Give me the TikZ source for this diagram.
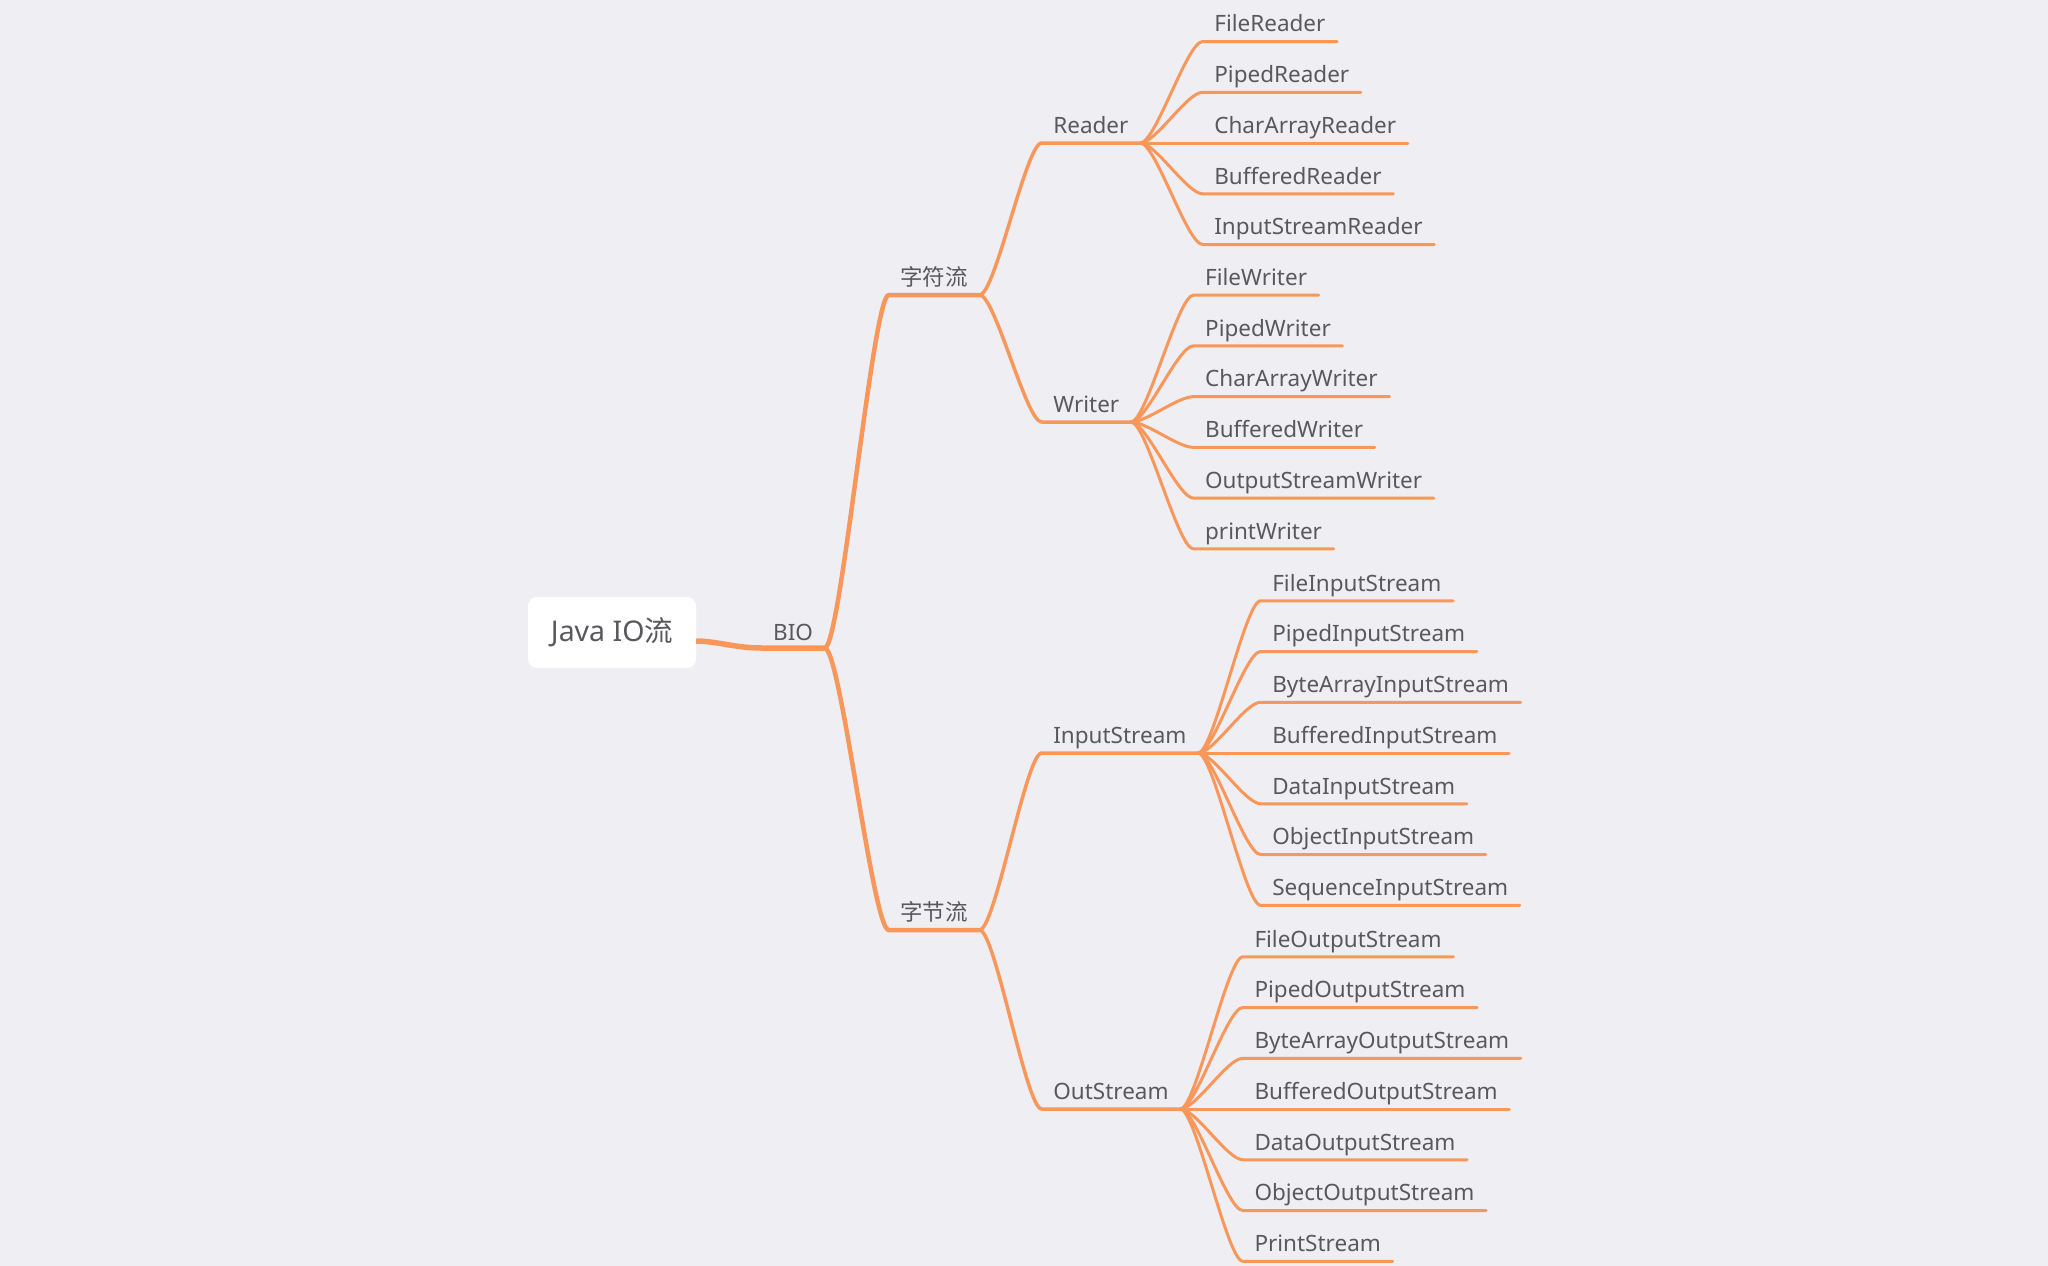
\documentclass[tikz,border=0pt]{standalone}
\usepackage{fontspec}
\setmainfont{Noto Sans}
\newfontfamily\cjk{Noto Sans CJK SC}
\usetikzlibrary{calc}
\definecolor{bg}{HTML}{EFEEF3}
\definecolor{branch}{HTML}{F9975B}
\definecolor{ink}{HTML}{58585D}
\tikzset{
  lbl/.style={anchor=south west, inner xsep=11.5pt, inner ysep=9.5pt,
    text depth=0pt, text=ink, font=\fontsize{22.5}{27}\selectfont},
  wire/.style={draw=branch, line cap=round, line join=round},
  rootbox/.style={fill=white, rounded corners=9pt, minimum width=168pt,
    minimum height=71pt, inner sep=0pt, text=ink,
    font=\fontsize{28.5}{34}\selectfont},
}
% curved branch from a parent's fork to a child's corner, then the child's underline
\newcommand\link[3][]{%
  \draw[wire,#1] (#2.south east)
    .. controls ($(#2.south east)!0.25!(#3.south west|-#2.south east)$)
    and ($(#2.south east|-#3.south west)!0.75!(#3.south west)$)
    .. (#3.south west) -- (#3.south east);}
\begin{document}
\begin{tikzpicture}[x=1pt,y=-1pt]
\fill[bg] (0,0) rectangle (2048,1266);
\useasboundingbox (0,0) rectangle (2048,1266);

% root and first level
\node[rootbox] (root) at (612,632.5) {Java IO{\cjk 流}};
\node[lbl, inner ysep=7.5pt] (bio) at (761.5,648) {BIO};
\coordinate (r0) at ($(root.east)+(0,8.5)$);
\draw[wire, line width=5.5pt, line cap=butt] (r0)
  .. controls ($(r0)!0.3!(bio.south west|-r0)$)
  and ($(r0|-bio.south west)!0.6!(bio.south west)$)
  .. (bio.south west) -- (bio.south east);

\node[lbl] (chars) at ($(bio.south east)+(64,-353)$) {\cjk 字符流};
\node[lbl] (bytes) at ($(bio.south east)+(64,282)$) {\cjk 字节流};
\link[line width=4.5pt]{bio}{chars}
\link[line width=4.5pt]{bio}{bytes}

% second level
\node[lbl] (reader) at ($(chars.south east)+(62,-152)$) {Reader};
\node[lbl] (writer) at ($(chars.south east)+(62,127)$) {Writer};
\node[lbl] (instream) at ($(bytes.south east)+(62,-177)$) {InputStream};
\node[lbl] (outstream) at ($(bytes.south east)+(62,179)$) {OutStream};
\link[line width=3.5pt]{chars}{reader}
\link[line width=3.5pt]{chars}{writer}
\link[line width=3.5pt]{bytes}{instream}
\link[line width=3.5pt]{bytes}{outstream}

% leaves
\foreach \name [count=\i] in {FileReader,PipedReader,CharArrayReader,BufferedReader,InputStreamReader}{
  \node[lbl] (rd\i) at ($(reader.south east)+(62.5,{(\i-3)*50.75})$) {\name};
  \link[line width=3pt]{reader}{rd\i}
}
\foreach \name [count=\i] in {FileWriter,PipedWriter,CharArrayWriter,BufferedWriter,OutputStreamWriter,printWriter}{
  \node[lbl] (wr\i) at ($(writer.south east)+(62.5,{(\i-3.5)*50.75})$) {\name};
  \link[line width=3pt]{writer}{wr\i}
}
\foreach \name [count=\i] in {FileInputStream,PipedInputStream,ByteArrayInputStream,BufferedInputStream,DataInputStream,ObjectInputStream,SequenceInputStream}{
  \node[lbl] (is\i) at ($(instream.south east)+(62.5,{(\i-4)*50.75})$) {\name};
  \link[line width=3pt]{instream}{is\i}
}
\foreach \name [count=\i] in {FileOutputStream,PipedOutputStream,ByteArrayOutputStream,BufferedOutputStream,DataOutputStream,ObjectOutputStream,PrintStream}{
  \node[lbl] (os\i) at ($(outstream.south east)+(62.5,{(\i-4)*50.75})$) {\name};
  \link[line width=3pt]{outstream}{os\i}
}
\end{tikzpicture}
\end{document}
